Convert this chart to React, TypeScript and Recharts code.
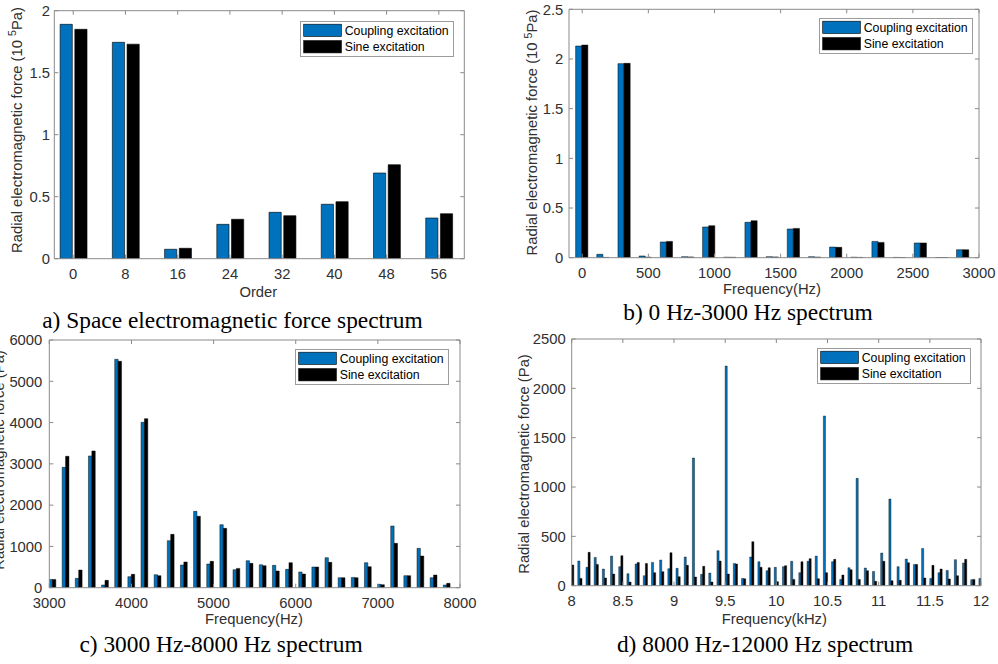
import React from 'react';
import { BarChart, Bar, XAxis, YAxis, Legend } from 'recharts';

// ---------------- data ----------------
const orders = [0, 8, 16, 24, 32, 40, 48, 56];
const orderCoupling = [1.89, 1.745, 0.076, 0.277, 0.374, 0.439, 0.691, 0.328];
const orderSine = [1.85, 1.73, 0.084, 0.318, 0.347, 0.46, 0.758, 0.363];

const lowFreq = [0, 160, 320, 480, 640, 800, 960, 1120, 1280, 1440, 1600, 1760, 1920, 2080, 2240, 2400, 2560, 2720, 2880];
const lowCoupling = [2.13, 0.034, 1.953, 0.017, 0.158, 0.01, 0.309, 0.005, 0.356, 0.01, 0.289, 0.01, 0.107, 0.005, 0.164, 0.003, 0.148, 0.002, 0.08];
const lowSine = [2.14, 0.003, 1.956, 0.005, 0.164, 0.008, 0.322, 0.004, 0.372, 0.008, 0.295, 0.006, 0.104, 0.003, 0.154, 0.002, 0.148, 0.002, 0.08];

const midFreq = [3040, 3200, 3360, 3520, 3680, 3840, 4000, 4160, 4320, 4480, 4640, 4800, 4960, 5120, 5280, 5440, 5600, 5760, 5920, 6080, 6240, 6400, 6560, 6720, 6880, 7040, 7200, 7360, 7520, 7680, 7840];
const midCoupling = [200, 2916, 226, 3191, 65, 5533, 267, 4006, 315, 1139, 549, 1850, 573, 1527, 436, 654, 557, 541, 444, 380, 501, 727, 242, 250, 606, 81, 1494, 291, 953, 242, 65];
const midSine = [200, 3183, 428, 3312, 178, 5485, 323, 4095, 291, 1292, 622, 1729, 638, 1438, 468, 590, 533, 404, 606, 331, 501, 614, 242, 242, 509, 73, 1074, 291, 767, 307, 105];

const highFreq = [8, 8.08, 8.16, 8.24, 8.32, 8.4, 8.48, 8.56, 8.64, 8.72, 8.8, 8.88, 8.96, 9.04, 9.12, 9.2, 9.28, 9.36, 9.44, 9.52, 9.6, 9.68, 9.76, 9.84, 9.92, 10, 10.08, 10.16, 10.24, 10.32, 10.4, 10.48, 10.56, 10.64, 10.72, 10.8, 10.88, 10.96, 11.04, 11.12, 11.2, 11.28, 11.36, 11.44, 11.52, 11.6, 11.68, 11.76, 11.84, 11.92, 12];
const highCoupling = [180, 250, 186, 287, 169, 300, 193, 122, 220, 101, 236, 260, 172, 176, 291, 1294, 115, 128, 355, 2226, 226, 74, 291, 243, 152, 186, 193, 247, 132, 247, 300, 1720, 243, 64, 182, 1088, 179, 145, 331, 878, 193, 270, 216, 378, 74, 132, 155, 264, 230, 61, 74];
const highSine = [210, 74, 338, 216, 78, 118, 304, 37, 236, 226, 132, 142, 334, 91, 206, 88, 196, 37, 250, 118, 220, 71, 446, 186, 182, 41, 203, 64, 243, 274, 71, 132, 267, 108, 162, 64, 152, 44, 247, 51, 54, 233, 216, 78, 206, 169, 68, 101, 267, 64, 60];

const orderTicks = [0, 8, 16, 24, 32, 40, 48, 56];
const lowTicks = [0, 500, 1000, 1500, 2000, 2500, 3000];
const midTicks = [3000, 4000, 5000, 6000, 7000, 8000];
const highTicks = [8, 8.5, 9, 9.5, 10, 10.5, 11, 11.5, 12];
const yTicksA = [0, 0.5, 1, 1.5, 2];
const yTicksB = [0, 0.5, 1, 1.5, 2, 2.5];
const yTicksC = [0, 1000, 2000, 3000, 4000, 5000, 6000];
const yTicksD = [0, 500, 1000, 1500, 2000, 2500];

const seriesNames = ['Coupling excitation', 'Sine excitation'];
const captions = [
  'a) Space electromagnetic force spectrum',
  'b) 0 Hz-3000 Hz spectrum',
  'c) 3000 Hz-8000 Hz spectrum',
  'd) 8000 Hz-12000 Hz spectrum',
];

// ---------------- style ----------------
const BLUE = '#0072BD';
const AXIS = '#8a8a8a';
const TEXT = '#303030';
const SANS = '"Liberation Sans", Arial, Helvetica, sans-serif';
const SERIF = '"Liberation Serif", "Times New Roman", serif';
const FS = 14.8;

type Row = { x: number; coupling: number; sine: number };
const rows = (xs: number[], c: number[], s: number[]): Row[] =>
  xs.map((x, i) => ({ x, coupling: c[i], sine: s[i] }));

function LegendBox() {
  return (
    <svg width={154} height={36} style={{ display: 'block' }}>
      <rect x={0.5} y={0.5} width={153} height={35} fill="#fff" stroke="#9c9c9c" strokeWidth={1} />
      <rect x={3.7} y={3.2} width={37.7} height={12.3} fill={BLUE} stroke="#000" strokeWidth={0.6} />
      <rect x={3.7} y={19.6} width={37.7} height={12.3} fill="#000" stroke="#000" strokeWidth={0.6} />
      <text x={44.7} y={13.6} fontFamily={SANS} fontSize={12.3} fill="#000">{seriesNames[0]}</text>
      <text x={44.7} y={30} fontFamily={SANS} fontSize={12.3} fill="#000">{seriesNames[1]}</text>
    </svg>
  );
}

type PanelProps = {
  left: number; top: number; width: number; height: number;
  margin: { top: number; right: number; bottom: number; left: number };
  yAxisWidth: number; yTickMargin: number;
  data: Row[];
  xDomain: [number, number]; xTicks: number[];
  yDomain: [number, number]; yTicks: number[];
  barSize: number; barGap: number; strokeW: number;
  legendLeft: number; legendTop: number;
  xLabel: string; xLabelX: number; xLabelY: number;
  yLabel: string; ySup?: string; yTail?: string; yLabelX: number; yLabelY: number;
};

function Panel(p: PanelProps) {
  const xLabelFn = () => (
    <text x={p.xLabelX} y={p.xLabelY} textAnchor="middle" fontFamily={SANS} fontSize={FS} fill={TEXT}>
      {p.xLabel}
    </text>
  );
  const yLabelFn = () => (
    <text
      x={p.yLabelX}
      y={p.yLabelY}
      transform={`rotate(-90 ${p.yLabelX} ${p.yLabelY})`}
      textAnchor="middle"
      fontFamily={SANS}
      fontSize={FS}
      fill={TEXT}
    >
      {p.yLabel}
      {p.ySup ? <tspan dy={-5.5} fontSize={10.5}>{p.ySup}</tspan> : null}
      {p.ySup ? <tspan dy={5.5}>{p.yTail}</tspan> : null}
    </text>
  );
  const tickStyle = { fill: TEXT, fontSize: FS, fontFamily: SANS };
  const m = { top: p.margin.top - 1, right: p.margin.right - 1, bottom: p.margin.bottom, left: p.margin.left };
  return (
    <div style={{ position: 'absolute', left: p.left, top: p.top, width: p.width, height: p.height }}>
      <BarChart width={p.width} height={p.height} data={p.data} margin={m} barGap={p.barGap}>
        <XAxis
          dataKey="x" type="number" domain={p.xDomain} ticks={p.xTicks} allowDataOverflow interval={0}
          height={40} tickSize={-4} tickMargin={13.3} stroke={AXIS} tick={tickStyle} label={xLabelFn}
        />
        <XAxis
          xAxisId="top" dataKey="x" orientation="top" type="number" domain={p.xDomain} ticks={p.xTicks} allowDataOverflow
          interval={0} height={1} tickSize={-4} tickFormatter={() => ''} stroke={AXIS}
        />
        <YAxis
          type="number" domain={p.yDomain} ticks={p.yTicks} allowDataOverflow interval={0}
          width={p.yAxisWidth} tickSize={-4} tickMargin={p.yTickMargin} stroke={AXIS} tick={tickStyle} label={yLabelFn}
        />
        <YAxis
          yAxisId="right" orientation="right" type="number" domain={p.yDomain} ticks={p.yTicks} allowDataOverflow
          interval={0} width={1} tickSize={-4} tickFormatter={() => ''} stroke={AXIS}
        />
        <Bar dataKey="coupling" name={seriesNames[0]} fill={BLUE} stroke="#000" strokeWidth={p.strokeW} barSize={p.barSize} isAnimationActive={false} />
        <Bar dataKey="sine" name={seriesNames[1]} fill="#000" stroke="#000" strokeWidth={p.strokeW} barSize={p.barSize} isAnimationActive={false} />
        <Legend
          layout="vertical" align="center" verticalAlign="middle"
          wrapperStyle={{ left: p.legendLeft, top: p.legendTop, width: 154, height: 36 }}
          content={() => <LegendBox />}
        />
      </BarChart>
    </div>
  );
}

export default function App() {
  return (
    <div style={{ position: 'absolute', left: 0, top: 0, width: 998, height: 664, background: '#fff', overflow: 'hidden' }}>
      <svg width={998} height={664} style={{ position: 'absolute', left: 0, top: 0 }}>
        <text x={232.5} y={328} textAnchor="middle" fontFamily={SERIF} fontSize={23.4} fill="#000">{captions[0]}</text>
        <text x={748} y={320} textAnchor="middle" fontFamily={SERIF} fontSize={23.4} fill="#000">{captions[1]}</text>
        <text x={221} y={652} textAnchor="middle" fontFamily={SERIF} fontSize={23.4} fill="#000">{captions[2]}</text>
        <text x={765} y={652} textAnchor="middle" fontFamily={SERIF} fontSize={23.4} fill="#000">{captions[3]}</text>
      </svg>
      <Panel
        left={0} top={0} width={495} height={305}
        margin={{ top: 10.7, right: 30.7, bottom: 6.3, left: 0 }}
        yAxisWidth={54.3} yTickMargin={8.3}
        data={rows(orders, orderCoupling, orderSine)}
        xDomain={[-2.9, 59.9]} xTicks={orderTicks}
        yDomain={[0, 2]} yTicks={yTicksA}
        barSize={12.2} barGap={2.5} strokeW={0.6}
        legendLeft={300.3} legendTop={21}
        xLabel="Order" xLabelX={258.3} xLabelY={296.7}
        yLabel="Radial electromagnetic force (10 " ySup="5" yTail="Pa)" yLabelX={21.6} yLabelY={130}
      />
      <Panel
        left={495} top={0} width={503} height={305}
        margin={{ top: 9.3, right: 19, bottom: 7.3, left: 0 }}
        yAxisWidth={74} yTickMargin={9.7}
        data={rows(lowFreq, lowCoupling, lowSine)}
        xDomain={[-100, 3000]} xTicks={lowTicks}
        yDomain={[0, 2.5]} yTicks={yTicksB}
        barSize={6.1} barGap={0} strokeW={0.5}
        legendLeft={324.3} legendTop={18.3}
        xLabel="Frequency(Hz)" xLabelX={277} xLabelY={294}
        yLabel="Radial electromagnetic force (10 " ySup="5" yTail="Pa)" yLabelX={42.3} yLabelY={132.5}
      />
      <Panel
        left={0} top={330} width={495} height={300}
        margin={{ top: 10, right: 35, bottom: 2.3, left: 0 }}
        yAxisWidth={49.3} yTickMargin={11}
        data={rows(midFreq, midCoupling, midSine)}
        xDomain={[3000, 8000]} xTicks={midTicks}
        yDomain={[0, 6000]} yTicks={yTicksC}
        barSize={3.4} barGap={0} strokeW={0.45}
        legendLeft={295.3} legendTop={19.3}
        xLabel="Frequency(Hz)" xLabelX={254} xLabelY={294}
        yLabel="Radial electromagnetic force (Pa)" yLabelX={3.6} yLabelY={130}
      />
      <Panel
        left={495} top={330} width={503} height={300}
        margin={{ top: 9, right: 17, bottom: 4.3, left: 0 }}
        yAxisWidth={76.7} yTickMargin={10}
        data={rows(highFreq, highCoupling, highSine)}
        xDomain={[8, 12]} xTicks={highTicks}
        yDomain={[0, 2500]} yTicks={yTicksD}
        barSize={2.1} barGap={0} strokeW={0.4}
        legendLeft={322.3} legendTop={18.3}
        xLabel="Frequency(kHz)" xLabelX={279.3} xLabelY={294}
        yLabel="Radial electromagnetic force (Pa)" yLabelX={34} yLabelY={134}
      />
    </div>
  );
}
